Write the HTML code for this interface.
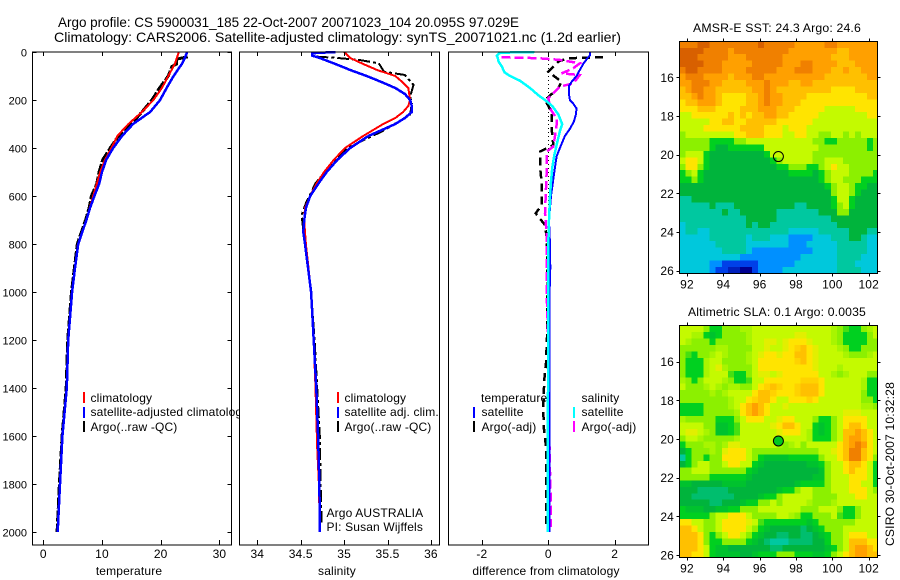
<!DOCTYPE html>
<html lang="en">
<head>
<meta charset="utf-8">
<title>Argo profile CS 5900031_185</title>
<style>
html,body{margin:0;padding:0;background:#fff;}
svg{display:block;}
text{font-family:"Liberation Sans",sans-serif;font-size:12px;fill:#000;letter-spacing:.15px;}
.pf{fill:none;stroke-linejoin:miter;}
</style>
</head>
<body>
<svg id="fig" xmlns="http://www.w3.org/2000/svg" width="900" height="580" viewBox="0 0 900 580">
<rect x="0" y="0" width="900" height="580" fill="#fff"/>
<text x="58" y="27" style="font-size:14px;letter-spacing:0" textLength="461" lengthAdjust="spacingAndGlyphs">Argo profile: CS 5900031_185 22-Oct-2007 20071023_104 20.095S 97.029E</text>
<text x="54" y="42" style="font-size:14px;letter-spacing:0" textLength="567" lengthAdjust="spacingAndGlyphs">Climatology: CARS2006. Satellite-adjusted climatology: synTS_20071021.nc (1.2d earlier)</text>

<g id="p1"></g>
<g>
<rect x="83" y="392" width="2" height="11" fill="#f00"/>
<text x="90.5" y="402">climatology</text>
<rect x="83" y="407" width="2" height="11" fill="#00f"/>
<text x="90.5" y="416">satellite-adjusted climatology</text>
<rect x="83" y="421" width="2" height="11" fill="#000"/>
<text x="90.5" y="431">Argo(..raw -QC)</text>
</g>

<g id="p2"></g>
<g>
<rect x="337" y="392" width="2" height="11" fill="#f00"/>
<text x="344.5" y="402">climatology</text>
<rect x="337" y="407" width="2" height="11" fill="#00f"/>
<text x="344.5" y="416">satellite adj. clim.</text>
<rect x="337" y="421" width="2" height="11" fill="#000"/>
<text x="344.5" y="431">Argo(..raw -QC)</text>
<text x="326.5" y="517">Argo AUSTRALIA</text>
<text x="326.5" y="531">PI: Susan Wijffels</text>
</g>

<g id="p3"></g>
<g>
<text x="481" y="402">temperature</text>
<rect x="473" y="407" width="2" height="11" fill="#00f"/>
<text x="481.5" y="416">satellite</text>
<rect x="473" y="421" width="2" height="11" fill="#000"/>
<text x="481.5" y="431">Argo(-adj)</text>
<text x="581.5" y="402">salinity</text>
<rect x="573" y="407" width="2" height="11" fill="#0ff"/>
<text x="581.5" y="416">satellite</text>
<rect x="573" y="421" width="2" height="11" fill="#f0f"/>
<text x="581.5" y="431">Argo(-adj)</text>
</g>

<text x="129" y="575" text-anchor="middle">temperature</text>
<text x="337" y="575" text-anchor="middle">salinity</text>
<text x="546" y="575" text-anchor="middle">difference from climatology</text>

<text x="777" y="32" text-anchor="middle" textLength="168" lengthAdjust="spacingAndGlyphs">AMSR-E SST: 24.3 Argo: 24.6</text>
<g id="m1"></g>
<text x="777" y="316" text-anchor="middle" textLength="178" lengthAdjust="spacingAndGlyphs">Altimetric SLA: 0.1 Argo: 0.0035</text>
<g id="m2"></g>
<text transform="translate(894,546) rotate(-90)" textLength="164" lengthAdjust="spacingAndGlyphs">CSIRO 30-Oct-2007 10:32:28</text>
</svg>

<script>
// ---- profile data ----
const depthTicks = [0,200,400,600,800,1000,1200,1400,1600,1800,2000];
const tempTicks = [0,10,20,30];
const salTicks = [34,34.5,35,35.5,36];
const diffTicks = [-2,0,2];

const tempClimDepth = [0,50,100,150,200,250,300,350,400,450,500,550,600,650,700,800,900,1000,1200,1400,1600,1800,2000];
const tempClim = [23.1,22.4,21.3,20.2,18.75,16.8,14.5,12.6,11.6,10.5,9.7,9.1,8.5,7.9,7.3,5.9,5.4,4.9,4.2,4.0,3.25,2.85,2.45];
const tempSatDepth = [0,25,50,100,150,200,250,300,350,400,450,500,550,600,650,700,800,900,1000,1200,1400,1600,1800,2000];
const tempSat = [24.5,24.1,23.6,22.2,21,19.9,18.2,15.3,13.4,11.9,10.7,10,9.5,8.7,7.95,7.35,5.95,5.4,4.9,4.25,4.0,3.25,2.85,2.45];
const tempArgoDepth = [20,30,50,60,100,150,200,250,300,350,400,450,500,550,600,650,700,800,900,1000,1200,1400,1600,1800,2000];
const tempArgo = [24.6,22.7,22.7,21.9,21.3,19.8,18.5,16.8,15,12.8,11.4,10.1,9.5,9.1,8.2,7.8,7.2,5.8,5.3,4.8,4.15,3.9,3.2,2.75,2.35];

const salClimDepth = [0,25,50,75,100,125,150,175,200,225,250,275,300,350,400,450,500,550,600,650,700,750,800,1000,1200,1400,1650,1800,2000];
const salClim = [35,35.07,35.22,35.38,35.59,35.67,35.74,35.75,35.76,35.74,35.68,35.59,35.45,35.22,35.01,34.88,34.77,34.68,34.61,34.55,34.54,34.55,34.56,34.62,34.65,34.67,34.69,34.71,34.72];
const salSatDepth = [0,5,15,25,50,75,100,125,150,175,200,225,250,275,300,350,400,450,500,550,600,650,700,750,800,1000,1200,1400,1600,1800,2000];
const salSat = [34.9,34.63,34.63,34.72,34.9,35.07,35.26,35.43,35.59,35.7,35.76,35.78,35.78,35.7,35.59,35.28,35.07,34.92,34.8,34.7,34.61,34.56,34.54,34.53,34.55,34.62,34.65,34.68,34.7,34.715,34.72];
const salArgoDepth = [19,24,33,47,82,96,137,186,214,262,332,401,464,547,630,679,742,800,1000,1200,1400,1600,1800,1960];
const salArgo = [34.68,34.9,35.17,35.4,35.46,35.7,35.8,35.76,35.78,35.76,35.43,35.03,34.86,34.67,34.56,34.51,34.53,34.55,34.62,34.66,34.69,34.72,34.73,34.74];

const diffTempSatDepth = [0,15,25,50,75,100,125,140,175,200,215,235,260,290,320,350,400,435,500,600,700,800,900,1000,1200,2000];
const diffTempSat = [1.25,1.25,1.18,1.05,.95,.85,.7,.63,.62,.65,.75,.85,.83,.77,.65,.5,.35,.25,.18,.08,.02,.05,.06,.04,.03,.03];
const diffSalSatDepth = [0,3,15,25,40,60,85,100,120,150,180,200,225,260,300,330,370,430,480,540,600,700,800,1000,2000];
const diffSalSat = [-.42,-1.45,-1.55,-1.52,-1.5,-1.4,-1.32,-1.15,-.85,-.55,-.3,-.1,.12,.3,.42,.35,.28,.18,.12,.08,.05,.02,0,0,-.02];
const diffTempArgoDepth = [22,26,40,82,124,151,200,249,318,388,415,478,547,637,672,721,769,950,1158,1296,1365,1479,1560,1646,1921,1975];
const diffTempArgo = [1.65,.6,.3,0,.4,.3,-.1,.1,.1,.15,-.25,-.25,-.2,-.2,-.38,-.1,-.05,-.02,-.03,-.07,-.12,-.15,-.14,-.07,-.07,-.05];
const diffSalArgoDepth = [22,26,33,47,68,89,96,131,144,193,242,276,304,353,394,415,506,672,756,1000,1200,1400,1600,1750,1900,1980];
const diffSalArgo = [-1.41,-.3,.35,.95,.75,.4,.95,.75,.35,0,.08,.25,.25,.2,.15,-.05,-.05,-.1,-.05,-.05,0,.02,.03,.05,.08,.07];
const zeroLineValues = [0,0];
const zeroLineDepths = [0,1000];

// ---- map data (colour levels, 33 columns x 36 rows, 1/3 degree cells) ----
const mapLonTicks = [92,94,96,98,100,102];
const mapLatTicks = [16,18,20,22,24,26];
const floatLon = 97.03;
const floatLat = 20.1;
const gridLonStart = 91.58;
const gridLatStart = 14.14;
const gridStep = 1/3;
const sstLevels = [
[12,12,12,13,13,12,12,12,12,12,12,12,12,13,12,12,12,12,12,11,11,11,11,11,12,12,11,11,11,11,11,11,11],
[13,13,13,13,12,12,12,12,11,12,12,12,12,12,12,12,12,12,11,11,11,11,11,11,11,11,10,10,11,11,11,11,11],
[13,13,13,12,12,12,12,12,11,11,11,12,12,12,12,12,12,11,11,11,11,11,11,11,11,10,10,10,11,11,11,11,11],
[13,13,13,13,12,12,12,11,11,11,11,11,12,12,12,12,12,11,11,11,12,12,11,11,11,11,10,10,10,11,11,11,11],
[12,13,13,12,12,12,12,11,11,11,11,12,12,12,12,12,11,11,11,12,12,12,11,11,11,10,10,11,10,10,11,11,11],
[11,12,12,12,11,11,11,11,10,11,11,11,12,12,11,11,11,11,11,11,11,11,11,11,10,10,10,10,10,10,10,11,11],
[11,11,12,12,12,11,11,10,10,10,10,11,11,11,12,11,11,11,10,10,11,11,10,10,10,10,10,10,10,10,10,10,10],
[10,11,12,12,11,11,10,10,10,10,10,10,11,11,12,11,10,10,10,10,10,10,10,10,10,9,9,9,9,10,10,10,10],
[10,10,11,12,11,11,10,9,9,9,9,10,10,11,12,11,11,10,10,10,10,9,9,9,9,9,9,9,9,9,9,10,10],
[9,10,10,11,11,11,10,9,9,9,9,10,10,11,12,11,11,10,10,10,9,9,9,9,9,9,9,9,9,9,9,9,9],
[9,9,9,10,10,10,9,9,9,9,10,10,10,11,11,11,10,10,10,9,9,9,9,9,8,8,8,8,8,9,9,9,9],
[8,8,9,9,9,9,9,9,10,9,10,9,10,10,11,11,10,10,9,9,9,9,9,8,8,8,8,8,8,8,8,9,9],
[8,8,8,8,8,9,9,10,10,9,9,10,10,10,10,10,9,9,9,9,9,9,8,8,8,8,8,8,8,8,8,8,8],
[8,8,8,8,9,9,9,9,9,9,10,10,10,10,9,9,9,8,9,9,9,8,8,8,8,8,8,8,8,8,8,8,8],
[7,8,8,8,8,8,8,8,8,9,9,10,10,10,9,9,9,8,8,9,9,8,8,7,7,8,8,7,8,7,8,8,8],
[7,7,7,7,7,6,6,6,6,7,7,8,8,8,8,8,8,8,8,8,8,8,7,7,6,6,7,7,7,7,7,6,7],
[7,7,7,7,7,6,5,5,6,6,6,6,6,6,8,8,8,8,8,8,8,8,8,7,7,7,7,7,7,7,7,6,7],
[7,8,8,8,6,5,5,5,5,5,5,5,5,5,6,8,8,8,8,8,8,8,7,7,7,7,7,7,7,7,7,7,7],
[8,9,9,8,6,5,5,5,5,5,5,5,5,5,5,6,7,8,8,8,8,8,7,7,8,8,8,7,7,7,7,7,7],
[7,9,9,7,6,5,5,5,5,5,5,5,5,5,5,5,6,6,7,7,7,6,6,7,8,9,8,8,7,7,7,7,7],
[6,7,8,6,5,5,5,5,5,5,5,5,5,5,5,5,5,5,6,6,6,6,5,6,7,8,8,8,7,7,7,7,6],
[6,6,7,6,5,5,5,5,5,5,5,5,5,5,5,5,5,5,5,5,5,5,5,6,7,8,8,7,7,7,6,6,6],
[5,5,5,5,5,5,5,5,5,5,5,5,5,5,5,5,5,5,5,5,5,5,5,5,6,7,8,8,7,6,6,5,5],
[5,5,5,5,5,5,5,5,5,5,5,5,5,5,5,5,5,5,5,5,5,5,5,5,5,7,8,8,7,6,5,5,5],
[4,4,5,5,5,5,5,5,5,5,5,5,5,5,5,5,5,5,5,5,5,5,5,5,5,6,8,8,6,5,5,5,5],
[4,4,4,4,4,5,4,4,4,5,5,5,5,5,5,5,5,5,5,4,4,5,5,5,5,6,7,8,6,5,5,5,5],
[4,4,4,4,4,4,4,5,4,4,5,5,5,5,5,5,4,4,4,4,4,4,4,5,5,5,7,7,5,5,5,5,5],
[4,4,4,4,4,4,4,4,4,4,4,5,5,5,5,5,4,4,4,4,4,4,4,4,4,5,5,5,5,5,5,5,5],
[3,4,4,4,4,4,4,4,4,4,4,5,4,5,5,4,4,4,4,4,4,4,4,4,4,4,5,5,5,5,5,5,5],
[3,4,4,3,3,4,4,4,4,4,4,4,4,4,4,4,4,4,3,3,3,3,3,4,4,4,4,4,5,5,5,4,4],
[3,3,3,3,3,4,4,4,4,4,4,3,4,4,4,3,3,3,2,2,2,2,3,3,3,4,4,4,5,5,4,3,3],
[3,3,3,3,3,3,4,4,4,4,4,3,3,3,3,3,3,3,2,2,2,3,3,3,3,3,4,4,4,4,4,3,3],
[3,3,3,3,3,3,3,4,4,4,4,3,2,2,2,2,2,2,2,2,2,2,3,3,3,3,4,4,4,4,4,3,3],
[3,3,3,3,3,3,3,3,3,3,2,2,2,2,2,2,2,2,2,2,3,3,3,3,3,3,4,4,4,4,3,3,3],
[3,3,3,3,3,2,2,1,1,1,1,1,1,2,2,2,2,2,2,3,3,3,3,3,3,3,4,4,4,3,3,3,3],
[3,3,3,3,3,2,1,1,0.5,0.5,0,0,1,2,2,2,2,3,3,3,3,3,3,3,3,3,4,4,4,4,3,3,3]
];
const slaLevels = [
[8,8,8,8,7,6,6,7,7,7,7.5,7.5,8,8,8,8,8,8,8,8,8,8,8,8,8,7.5,7,6.5,6,6,7,7.5,8],
[8,8,7.5,7.5,6,5.5,6,7,7,7,7,7.5,8,8,8,8,8,8,8,8.5,8.5,8,8,8,8,7.5,7,6,6,6,6,7,8],
[8,7.5,7,7,7,6,7,7,7,7,7,7.5,8,8,8.5,8.5,8,8.5,9,9,9,8.5,8,8,8,7.5,7,6,6,6,6,7,7],
[7,7,7,7,7,7,7.5,7.5,7,7,7,7,8,8,8.5,8,8,8.5,9,9.5,10,9,8.5,8,8,8,7.5,7,6,6,7,7,7],
[7,6.5,6,7,7,7.5,8,7.5,7,7,7,7.5,8,8.5,9,9,8.5,9,9,10,10,9,8.5,8,8,8,8,7.5,7,7,7,7.5,8],
[7,6,6,6,7.5,8,8,7,7,7,7,7.5,8,9,9,9,9,9,9,9.5,10,9,8.5,8,8,8,8,8,8,8,8,8,8],
[7,6,6,6,7.5,8,8.5,7.5,7,7,7,7,8,9,9,9,9,9,9,9,9,9,8.5,8,8,8,7.5,8,8,8,8,8,8],
[7,6,6,6,7.5,8,8,8,6.5,6,6,7,8,8.5,8.5,8,8.5,9,9,9,9,9,9,8,8,7.5,7,7.5,8,8,8,7,7],
[7.5,7,6,7,8,8,8,7.5,7,6,6,6.5,8,8,9,9,9,9,9,9,9.5,9.5,9.5,9,8,8,8,8,8,8,7.5,6,6],
[8,7,7,7,7.5,8,7.5,7,7.5,7.5,7,7,8,9,9.5,10,9.5,9,9,9.5,10,10,10,9,8,8,8,8,8,8,7.5,6,6],
[7,7,7,7,7,7.5,7,7.5,8,8,8,8,9,10,10,9.5,9,9,9,9.5,10,10,10,9,8,8,8,8,8,8,7,6,6],
[7,7,7,7,7,7,7,7,7.5,8,8,9,9.5,10,10,9,8,8,9,9,9,9.5,9,8,8,8,8,8,8,8,7,7,6],
[6,6,6,6,7,7,7,7,7.5,8,9,10,11,10,9,8,8,8.5,8,8,8,8,8,8,8,8,8,8,8,8,7.5,7.5,7],
[6,6,6,6,7,7,7,7,7,7.5,9,10,11,10,9,8,8,8,8,8,8,8,8,8,8,8,8,8.5,8.5,8.5,8,8,8],
[7.5,7,7,7,7,7,6,6,6,7,8,9,9,9,8,8,8.5,9,9,8,8,8,7,6,6,7,8,9,9,9,9,8,8],
[8,8,8,8,7,7,5.5,5.5,6,6.5,8,8,8,8,8,8.5,9,10,10,9,8,8,6,5.5,6,7,8,9,10,10,9,8,8],
[8,8.5,8.5,8,7.5,7,5.5,5.5,6,6.5,8,8,8,8,8,8,8.5,9,9,9,8,7.5,6,5.5,6,7,8,10,10,11,10,9,8],
[7,8,8,7.5,7,7,7,7,7,7.5,8,8,8,8,8,8,8,8,8,8,8,7.5,6,6,6,7,8,10,11,11,10,9,8],
[6,7,7,7,7.5,7.5,7,7.5,8.5,8.5,8,8,8,8,8,8,7.5,7,7.5,8,7,8,8,8,8,8,9,10,11,12,11,9,8],
[5,6,7,7,7,7.5,7,8.5,9,9,9,8,7,7,7,7,7,7,7,7,7,7,7,8,8,8.5,9,10,12,12,10,9,8],
[4,6,7,7,6,7,7,9,9,9,9,8,7,6,5.5,5.5,5.5,5.5,6,6,6,6,6,7,8,8,9,10,12,12,10,9,7],
[5,6,7,8,8,7,7,8,9,9,8,8,6,5.5,5,5,5,5,5,5,5,5.5,5.5,6,7,8,8,9,10,10,9,8,6],
[7,7,8,8,8,7,7,7,7,7,7,6,5.5,5,5,5,5,5,5,5,5,5,5,5.5,7,8,8,9,10,9,9,8,6],
[7,7,7,7,7,6,6,6,6,6,6,5.5,5,5,5,5,5,5,5,5,5,5,5.5,5.5,7,8,8,8,9,9,9,8,6],
[5.5,5.5,5,5,5,5,5,5.5,5.5,5.5,5.5,5,5,5,5,5,5,5,5,5.5,6,6,6,6,7,8,8,8,9,9,8,8,6],
[5,5,5,4.5,4.5,4.5,4.5,4.5,5,5,5,5,5,5,5,5,5.5,6,6,7,8,8,7,7,7,8,8,8,9,9,9,8,7],
[5,5,4.5,4.5,4.5,4.5,4.5,4.5,4.5,5,5,5,5,5.5,6,6,7,8,8,8,8,8,7,7,7,7,8,8,8,9,9,8,8],
[5,5,5,5,5,4.5,4.5,5,5,5,5.5,6,6,7,7,8,7,8,8,8,8,7.5,7,7,7,7.5,8,8,8,8,8,8,8],
[6,5.5,5.5,5.5,5,5,5.5,5.5,6,6,7,7,7,8,8,8,8,8,8,8,7,7,7,8,8,8,7,6,6,7,8,8,8],
[6,6,6,6,6,7,8,8,9,9,9,8,7,7,7,7,8,8,7.5,7,6,6,7,7,7,8,6.5,6,6,7,8,8,8],
[9,9,8,8,7,7,8,9,9,9,9,8.5,8,6.5,6,6,6,6,6,6,6,5.5,6,7,7,7,7,7,7,8,8,8,8],
[10,10,9,8,7,7,8,9,9,9,9,8,7,6,5.5,5,5,5,5,5,4.5,5,5.5,6,7,7,7,8,8,8,8,8,8],
[10,10,10,9,7,6,7,8,9,9,8,7,6,5.5,5,5,4.5,4.5,5,5,4.5,4.5,5,5.5,6,7,7,8,9,9,9,8,8],
[10,10,10,9,7,6,6,7,7,7,7,6,5.5,5,4.5,4,4,4,4.5,4.5,4.5,4.5,5,5,6,7,7,8,10,10,10,9,9],
[10,10,10,9,8,6,5.5,5.5,5,5,5,5,5,5,5,4.5,4.5,5,5,5,5,5,5,5,5.5,6,7,8,10,11,11,10,9],
[10,10,9,9,8,6,5.5,5.5,5.5,5.5,5,5,5.5,6,6,6,7,7,7,6,6,6,5.5,5.5,6,7,8,9,10,11,11,10,10]
];
const levelColors = [[0,0,144],[0,64,232],[0,144,255],[0,200,220],[0,200,160],[0,180,60],[0,208,32],[140,240,0],[196,250,0],[255,228,0],[255,192,0],[255,160,0],[240,128,0],[216,96,0]];

// ---- helpers ----
const NS = 'http://www.w3.org/2000/svg';
function add(parent, tag, attrs, txt) {
  const el = document.createElementNS(NS, tag);
  for (const k in attrs) el.setAttribute(k, attrs[k]);
  if (txt !== undefined) el.textContent = txt;
  parent.appendChild(el);
  return el;
}
function levelColor(v) {
  const lo = Math.max(0, Math.min(levelColors.length - 1, Math.floor(v)));
  const hi = Math.min(levelColors.length - 1, lo + 1);
  const f = Math.max(0, Math.min(1, v - lo));
  const c = levelColors[lo].map((q, i) => Math.round(q + (levelColors[hi][i] - q) * f));
  return 'rgb(' + c.join(',') + ')';
}
const TOP = 52, BOTTOM = 545;
const yDepth = d => TOP + d * 0.24;
const xTemp = t => 43.3 + t * 5.87;
const xSal = s => 257.3 + (s - 34) * 86.8;
const xDiff = v => 548.3 + v * 33.2;

function frame(g, x0, x1) {
  const bg = add(g, 'rect', {x: x0, y: TOP, width: x1 - x0, height: BOTTOM - TOP, fill: '#fff'});
  
  
}
function border(g, x0, x1) {
  const b = add(g, 'rect', {x: x0, y: TOP, width: x1 - x0, height: BOTTOM - TOP, fill: 'none', stroke: '#000', 'stroke-width': 1, 'shape-rendering': 'crispEdges'});
  
  
}
function xAxis(g, ticks, scale) {
  ticks.forEach(t => {
    const x = Math.round(scale(t)) + 0.5;
    const top = add(g, 'line', {x1: x, x2: x, y1: TOP, y2: TOP + 4, stroke: '#000', 'shape-rendering': 'crispEdges'});
    
    
    const bot = add(g, 'line', {x1: x, x2: x, y1: BOTTOM, y2: BOTTOM - 5, stroke: '#000', 'shape-rendering': 'crispEdges'});
    
    
    const lab = add(g, 'text', {x: scale(t), y: 558, 'text-anchor': 'middle'}, String(t));
    
    
  });
}
function profile(g, values, depths, scale, color, width, dash, name) {
  const pts = values.map((v, i) => scale(v).toFixed(1) + ',' + yDepth(depths[i]).toFixed(1)).join(' ');
  const attrs = {points: pts, class: 'pf', stroke: color, 'stroke-width': width, 'shape-rendering': 'crispEdges'};
  if (dash) attrs['stroke-dasharray'] = dash;
  const el = add(g, 'polyline', attrs);
  
  
}

// ---- panel 1: temperature ----
const p1 = document.getElementById('p1');
frame(p1, 32.5, 231.5);
profile(p1, tempArgo, tempArgoDepth, xTemp, '#000', 3, '11 2', 'temperature-argo-line');
profile(p1, tempClim, tempClimDepth, xTemp, '#f00', 2, null, 'temperature-climatology-line');
profile(p1, tempSat, tempSatDepth, xTemp, '#00f', 2.5, null, 'temperature-satellite-line');
border(p1, 32.5, 231.5);
xAxis(p1, tempTicks, xTemp);
depthTicks.forEach(d => {
  const y = Math.round(yDepth(d)) + 0.5;
  const l = add(p1, 'line', {x1: 32.5, x2: 36.5, y1: y, y2: y, stroke: '#000', 'shape-rendering': 'crispEdges'});
  
  
  const r = add(p1, 'line', {x1: 231.5, x2: 227.5, y1: y, y2: y, stroke: '#000', 'shape-rendering': 'crispEdges'});
  
  
  const lab = add(p1, 'text', {x: 27, y: yDepth(d) + 4.5, 'text-anchor': 'end', style: 'font-size:11px;letter-spacing:0'}, String(d));
  
  
});

// ---- panel 2: salinity ----
const p2 = document.getElementById('p2');
frame(p2, 239.5, 439.5);
profile(p2, salArgo, salArgoDepth, xSal, '#000', 2, '12 3 3 3', 'salinity-argo-line');
profile(p2, salClim, salClimDepth, xSal, '#f00', 2, null, 'salinity-climatology-line');
profile(p2, salSat, salSatDepth, xSal, '#00f', 2.5, null, 'salinity-satellite-line');
border(p2, 239.5, 439.5);
xAxis(p2, salTicks, xSal);

// ---- panel 3: differences ----
const p3 = document.getElementById('p3');
frame(p3, 448.5, 648.5);
profile(p3, zeroLineValues, zeroLineDepths, xDiff, '#000', 1, '1 3', 'zero-difference-line');
profile(p3, diffTempArgo, diffTempArgoDepth, xDiff, '#000', 2.5, '8 5', 'temperature-argo-difference-line');
profile(p3, diffSalArgo, diffSalArgoDepth, xDiff, '#f0f', 2.5, '9 4', 'salinity-argo-difference-line');
profile(p3, diffTempSat, diffTempSatDepth, xDiff, '#00f', 2, null, 'temperature-satellite-difference-line');
profile(p3, diffSalSat, diffSalSatDepth, xDiff, '#0ff', 2.5, null, 'salinity-satellite-difference-line');
border(p3, 448.5, 648.5);
xAxis(p3, diffTicks, xDiff);

// ---- maps ----
const xLon = lon => 687 + (lon - 92) * 18.17;
function drawMap(g, levels, top, bottom, lat16y, markerFill) {
  const yLat = lat => lat16y + (lat - 16) * 19.33;
  levels.forEach((row, r) => {
    row.forEach((v, c) => {
      const lon = gridLonStart + c * gridStep;
      const lat = gridLatStart + r * gridStep;
      const x0 = Math.max(679.5, xLon(lon));
      const x1 = Math.min(877.5, xLon(lon + gridStep));
      const y0 = Math.max(top, yLat(lat));
      const y1 = Math.min(bottom, yLat(lat + gridStep));
      const cell = add(g, 'rect', {x: x0.toFixed(2), y: y0.toFixed(2), width: Math.max(0, x1 - x0 + 0.4).toFixed(2), height: Math.max(0, y1 - y0 + 0.4).toFixed(2), fill: levelColor(v), 'shape-rendering': 'crispEdges'});
      
      
    });
  });
  const box = add(g, 'rect', {x: 679.5, y: top, width: 198, height: bottom - top, fill: 'none', stroke: '#000', 'shape-rendering': 'crispEdges'});
  
  
  mapLonTicks.forEach(t => {
    const x = Math.round(xLon(t)) + 0.5;
    const a = add(g, 'line', {x1: x, x2: x, y1: top, y2: top - 3, stroke: '#000', 'shape-rendering': 'crispEdges'});
    
    
    const b = add(g, 'line', {x1: x, x2: x, y1: bottom, y2: bottom + 3, stroke: '#000', 'shape-rendering': 'crispEdges'});
    
    
    const lab = add(g, 'text', {x: xLon(t), y: bottom + 15, 'text-anchor': 'middle'}, String(t));
    
    
  });
  mapLatTicks.forEach(t => {
    const y = Math.round(yLat(t)) + 0.5;
    const a = add(g, 'line', {x1: 679.5, x2: 676.5, y1: y, y2: y, stroke: '#000', 'shape-rendering': 'crispEdges'});
    
    
    const b = add(g, 'line', {x1: 877.5, x2: 880.5, y1: y, y2: y, stroke: '#000', 'shape-rendering': 'crispEdges'});
    
    
    const lab = add(g, 'text', {x: 674, y: yLat(t) + 4.5, 'text-anchor': 'end'}, String(t));
    
    
  });
  const m = add(g, 'circle', {cx: xLon(floatLon), cy: yLat(floatLat), r: 5, fill: markerFill, stroke: '#000', 'stroke-width': 1});
  
  
}
drawMap(document.getElementById('m1'), sstLevels, 41.5, 273.5, 77.3, 'none');
drawMap(document.getElementById('m2'), slaLevels, 325.5, 557.5, 361.7, '#00c820');
</script>
</body>
</html>
